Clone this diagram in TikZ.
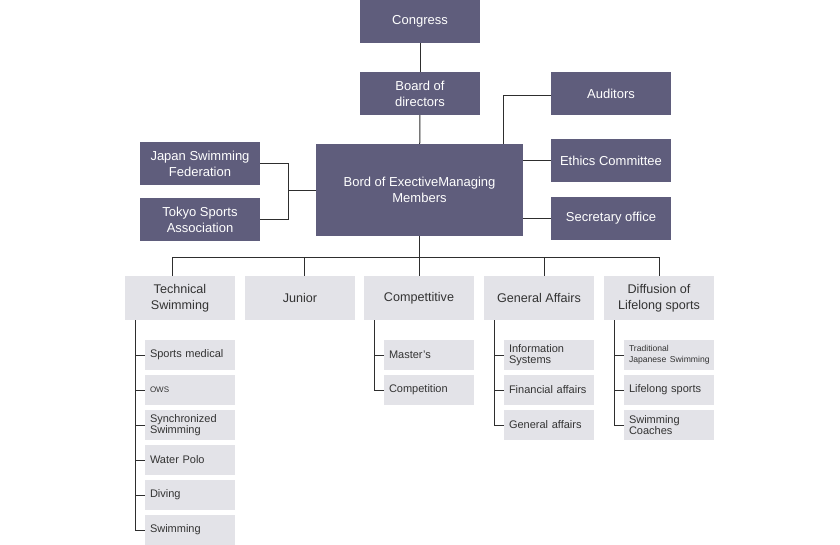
\documentclass[tikz,border=0pt]{standalone}
\usepackage{fontspec}
\setmainfont{Liberation Sans}
\definecolor{darkbox}{HTML}{5F5D7C}
\definecolor{lightbox}{HTML}{E3E3E8}
\definecolor{linec}{HTML}{2E2E2E}
\definecolor{textgray}{HTML}{333333}
\begin{document}
\begin{tikzpicture}[x=1pt,y=-1pt,
  dkbox/.style={fill=darkbox, text=white, font=\fontsize{13}{16}\selectfont, align=center, inner sep=0pt, minimum width=120pt, minimum height=43pt},
  ltbox/.style={fill=lightbox, text=textgray, font=\fontsize{12.6}{16}\selectfont, align=center, inner sep=0pt, minimum width=110pt, minimum height=44pt},
  subbox/.style={fill=lightbox, text=textgray, font=\fontsize{11}{11}\selectfont, align=left, inner sep=0pt, minimum width=90pt, minimum height=30pt, text width=80pt},
  conn/.style={draw=linec, line width=1pt}]
\fill[white] (0,0) rectangle (840,545);
\useasboundingbox (0,0) rectangle (840,545);
% top level
\node[dkbox] (congress) at (420,21.5) {Congress};
\node[dkbox] (board) at (420,93.5) {Board of\\directors};
\node[dkbox, minimum width=207pt, minimum height=92pt] (bord) at (419.5,190) {Bord of ExectiveManaging\\Members};
\node[dkbox] (jsf) at (200,163.5) {Japan Swimming\\Federation};
\node[dkbox] (tsa) at (200,219.5) {Tokyo Sports\\Association};
\node[dkbox] (aud) at (611,93.5) {Auditors};
\node[dkbox] (eth) at (611,160.5) {Ethics Committee};
\node[dkbox] (sec) at (611,218.5) {Secretary office};
% second level
\node[ltbox] (tech) at (180,298) {Technical\\Swimming};
\node[ltbox] (junior) at (300,298) {Junior};
\node[ltbox] (comp) at (419,298) {Compettitive};
\node[ltbox] (gen) at (539,298) {General Affairs};
\node[ltbox] (diff) at (659,298) {Diffusion of\\Lifelong sports};
% technical subs
\node[subbox] (t1) at (190,355) {Sports medical};
\node[subbox] (t2) at (190,390) {\fontsize{8}{9}\selectfont OWS};
\node[subbox] (t3) at (190,425) {Synchronized\\Swimming};
\node[subbox] (t4) at (190,460) {Water Polo};
\node[subbox] (t5) at (190,495) {Diving};
\node[subbox] (t6) at (190,530) {Swimming};
% competitive subs
\node[subbox] (c1) at (429,355) {Master's};
\node[subbox] (c2) at (429,390) {Competition};
% general subs
\node[subbox] (g1) at (549,355) {Information\\Systems};
\node[subbox] (g2) at (549,390) {Financial affairs};
\node[subbox] (g3) at (549,425) {General affairs};
% diffusion subs
\node[subbox] (d1) at (669,355) {\fontsize{8.6}{9}\selectfont \mbox{Traditional}\\\mbox{Japanese Swimming}};
\node[subbox] (d2) at (669,390) {Lifelong sports};
\node[subbox] (d3) at (669,425) {Swimming\\Coaches};
% connectors top
\draw[conn] (congress) -- (board);
\draw[conn] (board) -- (bord);
\coordinate (jx) at (288,191);
\draw[conn] (jsf.east) -| (jx);
\draw[conn] (tsa.east) -| (jx);
\draw[conn] (jx) -- (jx -| bord.west);
\coordinate (ax) at (503,95.5);
\draw[conn] (aud.west |- ax) -- (ax) -- (ax |- bord.north);
\draw[conn] (bord.east |- eth.west) -- (eth.west);
\draw[conn] (bord.east |- sec.west) -- (sec.west);
% bus
\coordinate (b1) at (172,257.5);
\coordinate (b2) at (304.5,257.5);
\coordinate (b3) at (419.5,257.5);
\coordinate (b4) at (544.5,257.5);
\coordinate (b5) at (659,257.5);
\draw[conn] (bord.south) -- (b3);
\draw[conn] (b1 |- tech.north) -- (b1) -- (b5) -- (b5 |- diff.north);
\draw[conn] (b2) -- (b2 |- junior.north);
\draw[conn] (b3) -- (b3 |- comp.north);
\draw[conn] (b4) -- (b4 |- gen.north);
% sub trees
\coordinate (tv) at (135.5,320);
\draw[conn] (tv) |- (t6.west);
\foreach \n in {t1,t2,t3,t4,t5} \draw[conn] (tv |- \n.west) -- (\n.west);
\coordinate (cv) at (374.5,320);
\draw[conn] (cv) |- (c2.west);
\draw[conn] (cv |- c1.west) -- (c1.west);
\coordinate (gv) at (494.5,320);
\draw[conn] (gv) |- (g3.west);
\foreach \n in {g1,g2} \draw[conn] (gv |- \n.west) -- (\n.west);
\coordinate (dv) at (614.5,320);
\draw[conn] (dv) |- (d3.west);
\foreach \n in {d1,d2} \draw[conn] (dv |- \n.west) -- (\n.west);
\end{tikzpicture}
\end{document}
